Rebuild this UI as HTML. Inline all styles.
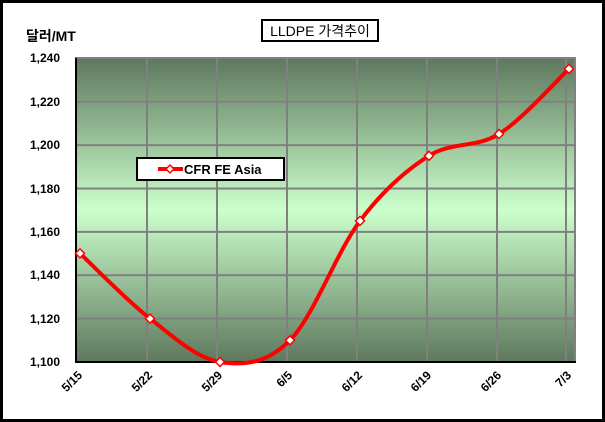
<!DOCTYPE html>
<html><head><meta charset="utf-8"><style>
html,body{margin:0;padding:0;background:#fff;}
svg{display:block;}
text{font-family:"Liberation Sans","Noto Sans CJK KR",sans-serif;font-weight:bold;font-size:12px;fill:#000;}
</style></head><body>
<svg width="605" height="422" viewBox="0 0 605 422">
<defs>
<linearGradient id="g" x1="0" y1="0" x2="0" y2="1">
<stop offset="0" stop-color="#5e785e"/>
<stop offset="0.5" stop-color="#ccffcc"/>
<stop offset="1" stop-color="#5e785e"/>
</linearGradient>
</defs>
<rect x="1.5" y="1.5" width="602" height="419" fill="#fff" stroke="#000" stroke-width="3"/>
<rect x="76" y="58" width="499" height="304" fill="url(#g)" stroke="#808080" stroke-width="2"/>
<g stroke="#808080" stroke-width="2">
<line x1="147" y1="58" x2="147" y2="362"/><line x1="217" y1="58" x2="217" y2="362"/>
<line x1="287" y1="58" x2="287" y2="362"/><line x1="357" y1="58" x2="357" y2="362"/>
<line x1="427" y1="58" x2="427" y2="362"/><line x1="497" y1="58" x2="497" y2="362"/>
<line x1="566" y1="58" x2="566" y2="362"/>
<line x1="76" y1="318.6" x2="575" y2="318.6"/><line x1="76" y1="275.2" x2="575" y2="275.2"/>
<line x1="76" y1="231.9" x2="575" y2="231.9"/><line x1="76" y1="188.5" x2="575" y2="188.5"/>
<line x1="76" y1="145.1" x2="575" y2="145.1"/><line x1="76" y1="101.7" x2="575" y2="101.7"/>
</g>
<g stroke="#000" stroke-width="2">
<line x1="76" y1="58" x2="76" y2="363"/><line x1="75" y1="362" x2="576" y2="362"/>
</g>
<g text-anchor="end">
<text x="60" y="62">1,240</text><text x="60" y="106">1,220</text><text x="60" y="149">1,200</text>
<text x="60" y="193">1,180</text><text x="60" y="236">1,160</text><text x="60" y="279">1,140</text>
<text x="60" y="323">1,120</text><text x="60" y="366">1,100</text>
</g>
<text x="26" y="41" style="font-size:14px">달러/MT</text>
<g text-anchor="end">
<text transform="translate(83,376) rotate(-45)">5/15</text>
<text transform="translate(153,376) rotate(-45)">5/22</text>
<text transform="translate(223,376) rotate(-45)">5/29</text>
<text transform="translate(293,376) rotate(-45)">6/5</text>
<text transform="translate(363,376) rotate(-45)">6/12</text>
<text transform="translate(432,376) rotate(-45)">6/19</text>
<text transform="translate(502,376) rotate(-45)">6/26</text>
<text transform="translate(572,376) rotate(-45)">7/3</text>
</g>
<rect x="262" y="20" width="116" height="21" fill="#fff" stroke="#000" stroke-width="2"/>
<text x="320" y="36" text-anchor="middle" style="font-weight:normal;font-size:14px">LLDPE 가격추이</text>
<path d="M80,253.4 C91.7,264.3 126.7,300.5 150,318.6 C173.3,336.7 196.7,358.4 220,362 C243.3,365.6 266.7,363.8 290,340.3 C313.3,316.8 336.8,251.7 360,220.9 C383.2,190.2 405.8,170.3 429,155.8 C452.2,141.3 475.7,148.5 499,134 C522.3,119.5 557.3,79.75 569,68.9" fill="none" stroke="#ff0000" stroke-width="4"/>
<g fill="#fff" stroke="#ff0000" stroke-width="1.5">
<path d="M80,248.9 l4.5,4.5 l-4.5,4.5 l-4.5,-4.5z"/>
<path d="M150,314.1 l4.5,4.5 l-4.5,4.5 l-4.5,-4.5z"/>
<path d="M220,357.5 l4.5,4.5 l-4.5,4.5 l-4.5,-4.5z"/>
<path d="M290,335.8 l4.5,4.5 l-4.5,4.5 l-4.5,-4.5z"/>
<path d="M360,216.4 l4.5,4.5 l-4.5,4.5 l-4.5,-4.5z"/>
<path d="M429,151.3 l4.5,4.5 l-4.5,4.5 l-4.5,-4.5z"/>
<path d="M499,129.5 l4.5,4.5 l-4.5,4.5 l-4.5,-4.5z"/>
<path d="M569,64.4 l4.5,4.5 l-4.5,4.5 l-4.5,-4.5z"/>
</g>
<rect x="137" y="158" width="147" height="22" fill="#fff" stroke="#000" stroke-width="2"/>
<line x1="158" y1="169" x2="183" y2="169" stroke="#ff0000" stroke-width="4"/>
<path d="M170,165 l4,4 l-4,4 l-4,-4z" fill="#fff" stroke="#ff0000" stroke-width="1.5"/>
<text x="184" y="174" style="font-size:13px">CFR FE Asia</text>
</svg>
</body></html>
